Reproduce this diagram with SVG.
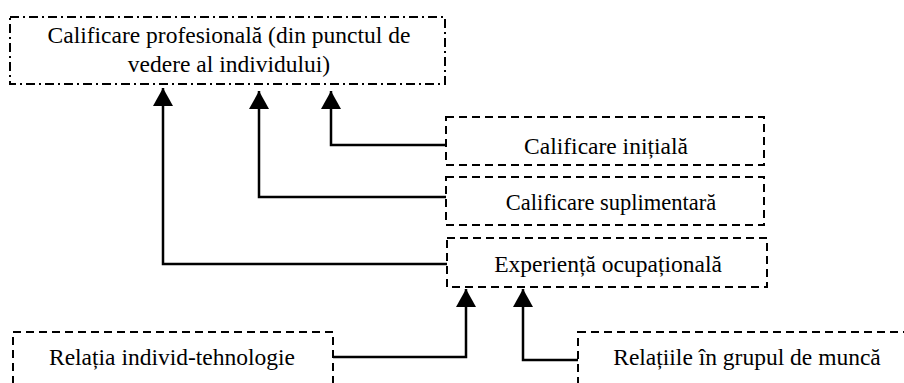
<svg xmlns="http://www.w3.org/2000/svg" width="904" height="383" viewBox="0 0 904 383">
<style>
.box{fill:none;stroke:#000;stroke-width:2;stroke-dasharray:8 5}
.dd{fill:none;stroke:#000;stroke-width:2;stroke-dasharray:9 4 2 4}
.conn{fill:none;stroke:#000;stroke-width:2.5}
text{font-family:"Liberation Serif","Times New Roman",serif;font-size:23.5px;fill:#000;text-anchor:middle}
</style>
<defs>
<marker id="arr" markerUnits="userSpaceOnUse" markerWidth="18" markerHeight="20" refX="18" refY="10" orient="auto" viewBox="0 0 18 20">
<path d="M0,0 L18,10 L0,20 Z" fill="#000"/>
</marker>
</defs>
<rect width="904" height="383" fill="#fff"/>
<g id="connectors">
<path class="conn" d="M446,145 H331 V91" marker-end="url(#arr)"/>
<path class="conn" d="M446,197 H259 V91" marker-end="url(#arr)"/>
<path class="conn" d="M447,264 H163 V88" marker-end="url(#arr)"/>
<path class="conn" d="M333,357 H466 V289" marker-end="url(#arr)"/>
<path class="conn" d="M578,360 H523 V289" marker-end="url(#arr)"/>
</g>
<g id="calificare-profesionala">
<rect class="dd" x="10" y="17" width="435" height="67"/>
<text x="229" y="43">Calificare profesională (din punctul de</text>
<text x="229" y="72">vedere al individului)</text>
</g>
<g id="calificare-initiala">
<rect class="box" x="446" y="117" width="318" height="48"/>
<text x="606" y="154">Calificare inițială</text>
</g>
<g id="calificare-suplimentara">
<rect class="box" x="446" y="177" width="318" height="48"/>
<text x="611" y="210" style="font-size:22.5px">Calificare suplimentară</text>
</g>
<g id="experienta-ocupationala">
<rect class="box" x="447" y="238" width="320" height="49"/>
<text x="608" y="272">Experiență ocupațională</text>
</g>
<g id="relatia-individ-tehnologie">
<rect class="box" x="13" y="332" width="320" height="70"/>
<text x="172" y="365">Relația individ-tehnologie</text>
</g>
<g id="relatiile-grup-munca">
<rect class="box" x="578" y="332" width="340" height="70"/>
<text x="747" y="365">Relațiile în grupul de muncă</text>
</g>
</svg>
